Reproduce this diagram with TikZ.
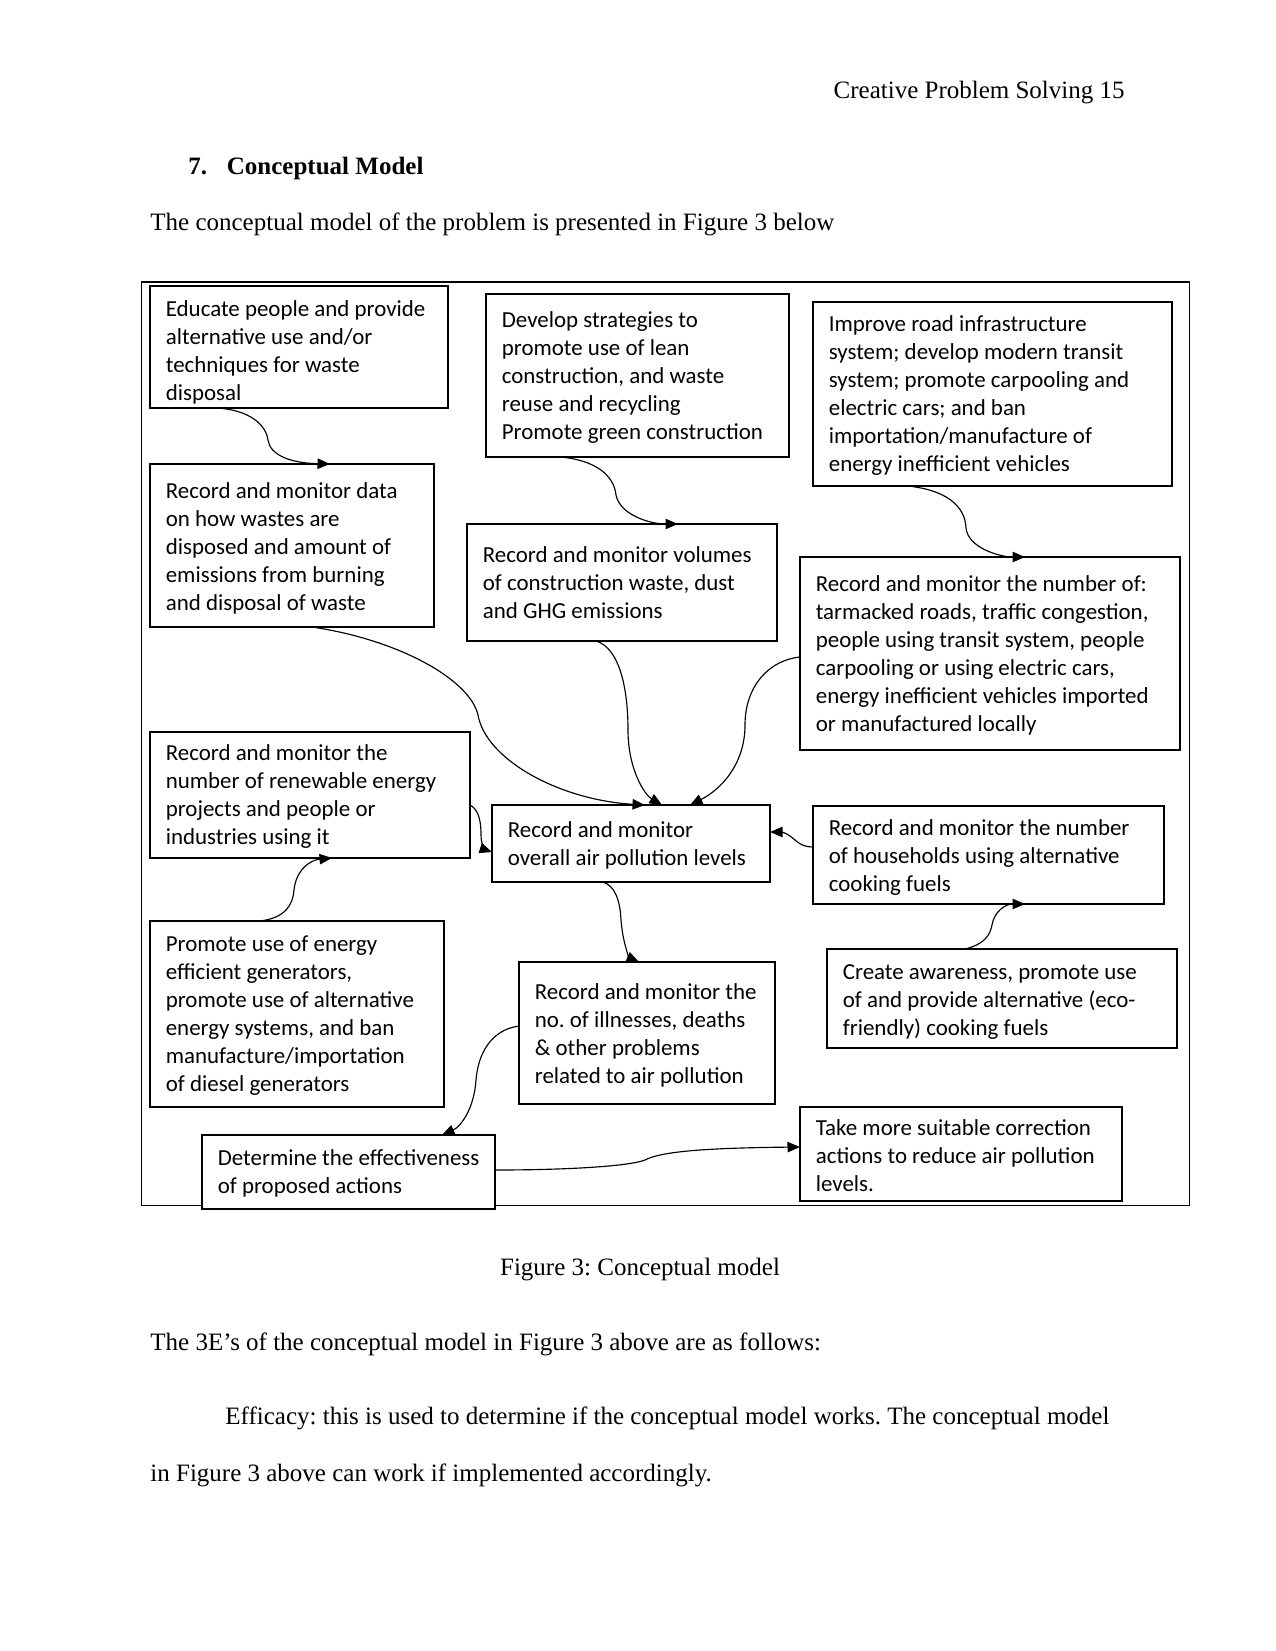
\documentclass[tikz,border=0pt]{standalone}
\usepackage{fontspec}
\setmainfont{Liberation Serif}
\newfontfamily\boxfont{Carlito}
\usetikzlibrary{arrows.meta,calc}
\frenchspacing
\tikzset{
  boxnode/.style={draw, line width=1pt, fill=white, inner sep=0pt, outer sep=0pt, anchor=north west},
  conn/.style={line width=0.55pt, -{Triangle[length=6pt,width=5pt]}},
  pagetext/.style={inner sep=0pt, font=\fontsize{12}{14}\selectfont},
}
% #1 name, #2 left, #3 top, #4 right, #5 bottom, #6 first baseline offset (px), #7 text
\newcommand{\mkbox}[7]{%
  \pgfmathsetmacro\bxw{(#4-#2)*0.48}%
  \pgfmathsetmacro\bxh{(#5-#3)*0.48}%
  \pgfmathsetmacro\bxo{#6*0.48}%
  \node[boxnode, minimum width=\bxw pt, minimum height=\bxh pt] (#1) at (#2,#3)
   {\parbox[c][\bxh pt][t]{\bxw pt}{\boxfont\fontsize{11}{13.44}\selectfont\raggedright\leftskip=7.6pt\relax\rule{0pt}{\bxo pt}#7}};%
}
\begin{document}
\begin{tikzpicture}[x=0.48pt, y=-0.48pt]
\useasboundingbox (0,0) rectangle (1275,1651);

% page text
\node[pagetext, anchor=base east] (hdr) at (1125,98.8) {Creative Problem Solving 15};
\node[pagetext, anchor=base west] (sec) at (188,174.8) {\bfseries\makebox[18.5pt][l]{7.}Conceptual Model};
\node[pagetext, anchor=base west] (intro) at (150,230.4) {The conceptual model of the problem is presented in Figure 3 below};
\node[pagetext, anchor=base] (cap) at (640,1275.4) {Figure 3: Conceptual model};
\node[pagetext, anchor=base west] (p1) at (150,1350.4) {The 3E’s of the conceptual model in Figure 3 above are as follows:};
\node[pagetext, anchor=base west] (p2) at (225,1424.8) {Efficacy: this is used to determine if the conceptual model works. The conceptual model};
\node[pagetext, anchor=base west] (p3) at (150,1481.5) {in Figure 3 above can work if implemented accordingly.};

% outer frame
\draw[line width=0.6pt] (141.5,282) rectangle (1189.5,1205.5);

% boxes
\mkbox{b1}{150}{286}{448}{408}{30}{Educate people and provide\\alternative use and/or\\techniques for waste\\disposal}
\mkbox{b2}{150}{464}{434}{627}{34.3}{Record and monitor data\\on how wastes are\\disposed and amount of\\emissions from burning\\and disposal of waste}
\mkbox{b3}{486}{294}{789}{457}{33.3}{Develop strategies to\\promote use of lean\\construction, and waste\\reuse and recycling\\Promote green construction}
\mkbox{b4}{467}{524}{777}{641}{38.7}{Record and monitor volumes\\of construction waste, dust\\and GHG emissions}
\mkbox{b5}{813}{302}{1172}{486}{29.4}{Improve road infrastructure\\system; develop modern transit\\system; promote carpooling and\\electric cars; and ban\\importation/manufacture of\\energy inefficient vehicles}
\mkbox{b6}{800}{557}{1180}{750}{34}{Record and monitor the number of:\\tarmacked roads, traffic congestion,\\people using transit system, people\\carpooling or using electric cars,\\energy inefficient vehicles imported\\or manufactured locally}
\mkbox{b7}{150}{732}{470}{858}{28.4}{Record and monitor the\\number of renewable energy\\projects and people or\\industries using it}
\mkbox{b8}{492}{805}{770}{882}{32.3}{Record and monitor\\overall air pollution levels}
\mkbox{b9}{813}{806}{1164}{904}{29}{Record and monitor the number\\of households using alternative\\cooking fuels}
\mkbox{b10}{827}{949}{1177}{1048}{30.3}{Create awareness, promote use\\of and provide alternative (eco-\\friendly) cooking fuels}
\mkbox{b11}{519}{962}{775}{1104}{37.3}{Record and monitor the\\no. of illnesses, deaths\\\& other problems\\related to air pollution}
\mkbox{b12}{150}{921}{444}{1107}{30.7}{Promote use of energy\\efficient generators,\\promote use of alternative\\energy systems, and ban\\manufacture/importation\\of diesel generators}
\mkbox{b13}{800}{1107}{1122}{1201}{28.3}{Take more suitable correction\\actions to reduce air pollution\\levels.}
\mkbox{b14}{202}{1135}{495}{1209}{30.7}{Determine the effectiveness\\of proposed actions}

% connectors
\draw[conn] ($(b1.south west)+(67,0)$) .. controls (250,410) and (266,425) .. (268,440)
  .. controls (270,455) and (290,463) .. ($(b2.north west)+(180,0)$);
\draw[conn] ($(b3.south west)+(74,0)$) .. controls (595,460) and (614,475) .. (616,495)
  .. controls (620,515) and (650,524) .. ($(b4.north west)+(211,0)$);
\draw[conn] ($(b5.south west)+(95,0)$) .. controls (945,490) and (965,505) .. (966,528)
  .. controls (968,548) and (1000,557) .. ($(b6.north west)+(225,0)$);
\draw[conn] ($(b2.south west)+(162,0)$) .. controls (400,640) and (470,680) .. (478,715)
  .. controls (486,760) and (560,800) .. ($(b8.north west)+(153,0)$);
\draw[conn] ($(b4.south west)+(129,0)$) .. controls (620,648) and (628,690) .. (628,730)
  .. controls (628,770) and (645,795) .. ($(b8.north west)+(170,0)$);
\draw[conn] ($(b6.north west)+(0,100)$) .. controls (770,660) and (745,685) .. (745,725)
  .. controls (745,765) and (720,790) .. ($(b8.north west)+(198,0)$);
\draw[conn] ($(b7.north east)+(0,73)$) .. controls (480,810) and (481,825) .. (481,835)
  .. controls (481,845) and (486,850) .. ($(b8.north west)+(0,47)$);
\draw[conn] ($(b9.north west)+(0,41)$) .. controls (800,847) and (796,840) .. (790,836)
  .. controls (785,832) and (780,832) .. ($(b8.north east)+(0,27)$);
\draw[conn] ($(b8.south west)+(111,0)$) .. controls (615,886) and (620,900) .. (621,920)
  .. controls (623,945) and (630,958) .. ($(b11.north west)+(120,0)$);
\draw[conn] ($(b10.north west)+(138,0)$) .. controls (985,944) and (990,935) .. (992,925)
  .. controls (994,912) and (1005,904) .. ($(b9.south west)+(212,0)$);
\draw[conn] ($(b12.north west)+(110,0)$) .. controls (285,918) and (293,905) .. (294,890)
  .. controls (296,870) and (310,860) .. ($(b7.south west)+(182,0)$);
\draw[conn] ($(b11.north west)+(0,64)$) .. controls (490,1030) and (478,1055) .. (476,1080)
  .. controls (474,1110) and (460,1127) .. ($(b14.north west)+(240,0)$);
\draw[conn] ($(b14.north east)+(0,35)$) .. controls (570,1170) and (630,1166) .. (645,1160)
  .. controls (660,1152) and (700,1148) .. ($(b13.north west)+(0,40)$);
\end{tikzpicture}
\end{document}
